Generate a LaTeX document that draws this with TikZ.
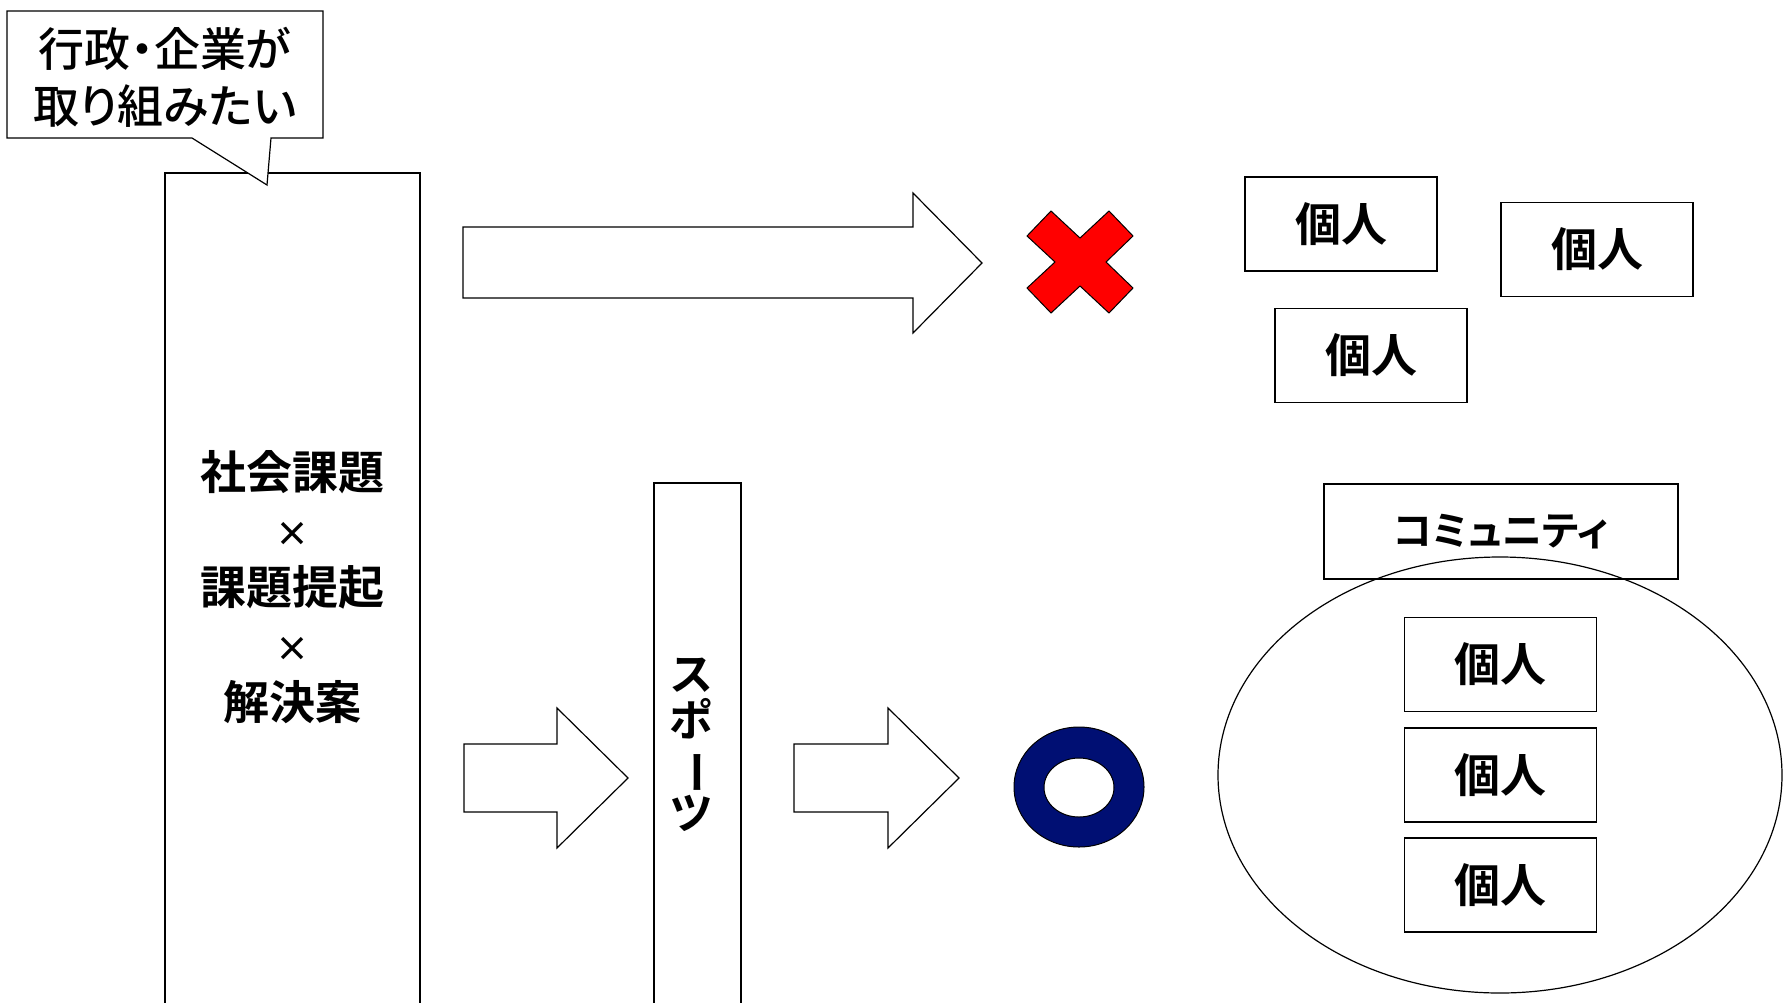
\documentclass[tikz,border=0pt]{standalone}
\usepackage{fontspec}
\usepackage{graphicx}
\newfontfamily\jp{Noto Sans CJK JP}[BoldFont={Noto Sans CJK JP Bold}]
\newfontfamily\jpp{Noto Sans CJK JP Bold}[RawFeature=+palt]
\newfontfamily\jpm{Noto Sans CJK JP Medium}[RawFeature=+palt]
\definecolor{navy}{RGB}{0,15,115}
\definecolor{xred}{RGB}{255,0,0}
\newcommand{\smallx}{{\fontsize{34}{57.5}\selectfont ×}}
\begin{document}
\begin{tikzpicture}[x=1pt,y=-1pt,
  line/.style={draw=black,line width=1.2pt},
  box/.style={draw=black,line width=1.2pt,fill=white,inner sep=0pt},
  kojin/.style={box,minimum width=192pt,minimum height=94pt,font=\jp\bfseries\fontsize{46}{50}\selectfont},
  blockarrow/.style={draw=black,line width=1.2pt,fill=white,line join=miter}]
\useasboundingbox (0,0) rectangle (1783,1002);
% main tall box (open at bottom)
\draw[line] (165,1010) -- (165,173) -- (420,173) -- (420,1010);
\node[align=center,font=\jp\bfseries\fontsize{46}{57.5}\selectfont] (main) at (292.5,587)
  {社会課題\\\smallx\\課題提起\\\smallx\\解決案};
% callout
\draw[line,fill=white,line join=miter] (7,11) -- (323,11) -- (323,138) -- (271,138) -- (267,185) -- (192,138) -- (7,138) -- cycle;
\node[align=center,font=\jpm\fontsize{46}{57}\selectfont] (call) at (165,77)
  {行政・企業が\\取り組みたい};
% big arrow
\draw[blockarrow] (463,227) -- (913,227) -- (913,193) -- (982,263) -- (913,333) -- (913,298) -- (463,298) -- cycle;
% red cross
\draw[draw=black,line width=1pt,fill=xred,line join=miter]
  (1051,211) -- (1080,238) -- (1109,211) -- (1133,236) -- (1106,262) -- (1133,288)
  -- (1109,313) -- (1080,286) -- (1051,313) -- (1027,288) -- (1055,262) -- (1027,236) -- cycle;
% individual boxes top
\node[kojin] (k1) at (1341,224) {個人};
\node[kojin] (k2) at (1597,249.5) {個人};
\node[kojin] (k3) at (1371,355.5) {個人};
% sports box (open at bottom)
\draw[line] (654,1010) -- (654,483) -- (741,483) -- (741,1010);
\node[align=center,inner sep=0pt,font=\jp\bfseries\fontsize{44}{46}\selectfont] (sport) at (691,745)
  {ス\\ポ\\\rotatebox[origin=c]{-90}{ー}\\ツ};
% small arrows
\draw[blockarrow] (464,744) -- (557,744) -- (557,708) -- (628,778) -- (557,848) -- (557,812) -- (464,812) -- cycle;
\draw[blockarrow] (794,744) -- (888,744) -- (888,708) -- (959,778) -- (888,848) -- (888,812) -- (794,812) -- cycle;
% blue ring
\draw[draw=black,line width=1pt,fill=navy,even odd rule] (1079,787) ellipse [x radius=65,y radius=60]
  (1079,787.5) ellipse [x radius=35,y radius=29.5];
% community
\node[box,minimum width=354pt,minimum height=95pt,font=\jpp\fontsize{40}{46}\selectfont] (comm) at (1501,531.5) {コミュニティ};
\draw[line] (1500,775) ellipse [x radius=282,y radius=218];
\node[kojin] (k4) at (1500.5,664.5) {個人};
\node[kojin] (k5) at (1500.5,775) {個人};
\node[kojin] (k6) at (1500.5,885) {個人};
\end{tikzpicture}
\end{document}
